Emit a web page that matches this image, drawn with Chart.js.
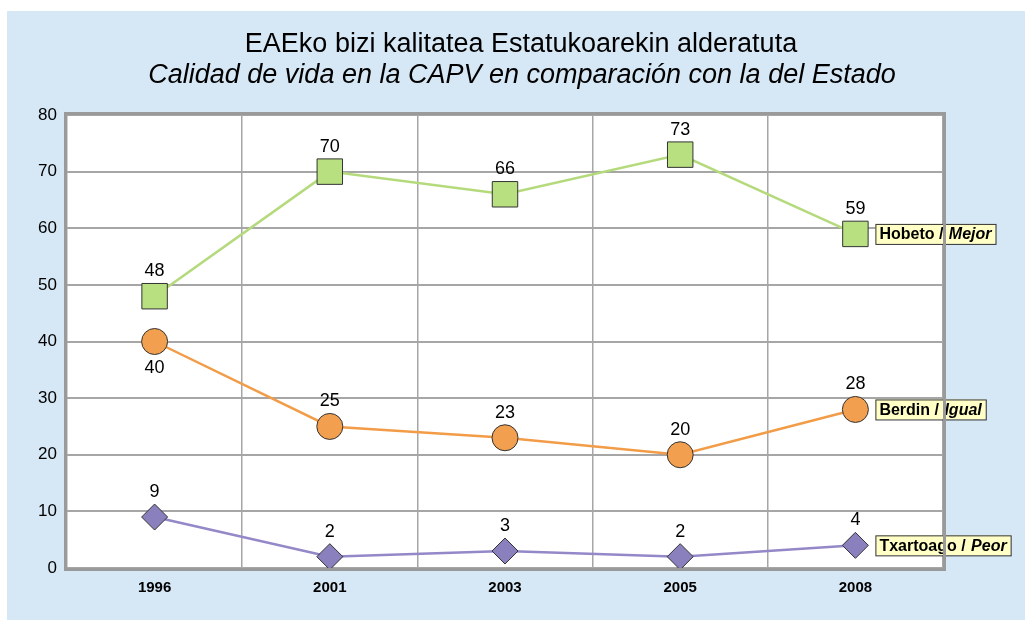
<!DOCTYPE html>
<html>
<head>
<meta charset="utf-8">
<script src="https://cdn.jsdelivr.net/npm/chart.js@4/dist/chart.umd.min.js"></script>
<style>
  html, body { margin: 0; padding: 0; background: #ffffff; }
  canvas { display: block; }
</style>
</head>
<body>
<canvas id="qualityChart" width="1025" height="620"></canvas>
<script>
// Datos
const years = ["1996", "2001", "2003", "2005", "2008"];
const hobeto = [48, 70, 66, 73, 59];
const berdin = [40, 25, 23, 20, 28];
const txartoago = [9, 2, 3, 2, 4];
const yTicks = [0, 10, 20, 30, 40, 50, 60, 70, 80];

const titleEu = "EAEko bizi kalitatea Estatukoarekin alderatuta";
const titleEs = "Calidad de vida en la CAPV en comparación con la del Estado";

const FONT = "'Liberation Sans', Arial, sans-serif";

// fondo azul + area blanca + borde
const backgroundPlugin = {
  id: "background",
  beforeDraw(chart) {
    const ctx = chart.ctx;
    const a = chart.chartArea;
    ctx.save();
    ctx.fillStyle = "#ffffff";
    ctx.fillRect(0, 0, chart.width, chart.height);
    ctx.fillStyle = "#d6e7f5";
    ctx.fillRect(7, 11, chart.width - 7, chart.height - 11);
    ctx.fillStyle = "#ffffff";
    ctx.fillRect(a.left, a.top, a.right - a.left, a.bottom - a.top);
    ctx.restore();
  },
  afterDraw(chart) {
    const ctx = chart.ctx;
    const a = chart.chartArea;
    ctx.save();
    ctx.strokeStyle = "#9a9a9a";
    ctx.lineWidth = 3;
    ctx.strokeRect(a.left - 1.5, a.top - 1.5, a.right - a.left + 3, a.bottom - a.top + 3);
    // titulo
    ctx.fillStyle = "#000000";
    ctx.textAlign = "center";
    ctx.textBaseline = "middle";
    ctx.font = "27px " + FONT;
    ctx.fillText(titleEu, 521, 45);
    ctx.font = "italic 27px " + FONT;
    ctx.fillText(titleEs, 522, 75);
    ctx.restore();
  }
};

// etiquetas de valores y cajas de serie
const labelPlugin = {
  id: "valueLabels",
  afterDatasetsDraw(chart) {
    const ctx = chart.ctx;
    ctx.save();
    chart.data.datasets.forEach((ds, i) => {
      const meta = chart.getDatasetMeta(i);
      ctx.font = "18px " + FONT;
      ctx.fillStyle = "#000000";
      ctx.textAlign = "center";
      ctx.textBaseline = "middle";
      meta.data.forEach((pt, j) => {
        const below = ds.labelPos && ds.labelPos[j] === "below";
        ctx.fillText(String(ds.data[j]), pt.x, pt.y + (below ? 27 : -25));
      });

      // caja de leyenda junto al ultimo punto
      const last = meta.data[meta.data.length - 1];
      const boxX = last.x + 20;
      const boxY = last.y;
      const first = ds.nameEu + " /";
      ctx.textAlign = "left";
      ctx.font = "bold 16px " + FONT;
      const w1 = ctx.measureText(first).width;
      const gap = ctx.measureText("a a").width - ctx.measureText("aa").width + 1;
      ctx.font = "italic bold 16px " + FONT;
      const w2 = ctx.measureText(ds.nameEs).width;
      const w = w1 + gap + w2 + 8;
      const h = 20;
      ctx.fillStyle = "#ffffc6";
      ctx.fillRect(boxX, boxY - h / 2, w, h);
      ctx.strokeStyle = "#333333";
      ctx.lineWidth = 1;
      ctx.strokeRect(boxX + 0.5, boxY - h / 2 + 0.5, w, h);
      ctx.fillStyle = "#000000";
      ctx.font = "bold 16px " + FONT;
      ctx.fillText(first, boxX + 4, boxY + 1);
      ctx.font = "italic bold 16px " + FONT;
      ctx.fillText(ds.nameEs, boxX + 4 + w1 + gap, boxY + 1);
    });
    ctx.restore();
  }
};

const ctx = document.getElementById("qualityChart").getContext("2d");
new Chart(ctx, {
  type: "line",
  data: {
    labels: years,
    datasets: [
      {
        label: "Hobeto / Mejor",
        nameEu: "Hobeto",
        nameEs: "Mejor",
        data: hobeto,
        borderColor: "#b5da7c",
        backgroundColor: "#b8df80",
        borderWidth: 2.5,
        pointStyle: "rect",
        pointRadius: 18,
        pointBorderColor: "#333333",
        pointBorderWidth: 1,
        pointBackgroundColor: "#b8df80",
        tension: 0
      },
      {
        label: "Berdin / Igual",
        nameEu: "Berdin",
        nameEs: "Igual",
        labelPos: ["below", "above", "above", "above", "above"],
        data: berdin,
        borderColor: "#f29c48",
        backgroundColor: "#f2a050",
        borderWidth: 2.5,
        pointStyle: "circle",
        pointRadius: 13,
        pointBorderColor: "#333333",
        pointBorderWidth: 1,
        pointBackgroundColor: "#f2a050",
        tension: 0
      },
      {
        label: "Txartoago / Peor",
        nameEu: "Txartoago",
        nameEs: "Peor",
        data: txartoago,
        borderColor: "#9488c8",
        backgroundColor: "#8a80be",
        borderWidth: 2.5,
        pointStyle: "rectRot",
        pointRadius: 13,
        pointBorderColor: "#333333",
        pointBorderWidth: 1,
        pointBackgroundColor: "#8a80be",
        tension: 0
      }
    ]
  },
  options: {
    responsive: false,
    animation: false,
    layout: { padding: { left: 0, top: 115, right: 82, bottom: 0 } },
    plugins: {
      legend: { display: false },
      tooltip: { enabled: false },
      title: { display: false }
    },
    scales: {
      x: {
        offset: true,
        grid: { offset: true, color: "#a6a6a6", lineWidth: 1.5, drawTicks: false },
        border: { display: false },
        ticks: {
          color: "#000000",
          font: { family: FONT, size: 15, weight: "bold" },
          padding: 11
        },
        afterFit(scale) { scale.height = 52; }
      },
      y: {
        min: 0,
        max: 80,
        afterBuildTicks(scale) { scale.ticks = yTicks.map(v => ({ value: v })); },
        grid: { color: "#a6a6a6", lineWidth: 2, drawTicks: false },
        border: { display: false },
        ticks: {
          color: "#000000",
          font: { family: FONT, size: 17 },
          padding: 10
        },
        afterFit(scale) { scale.width = 67; }
      }
    }
  },
  plugins: [backgroundPlugin, labelPlugin]
});
</script>
</body>
</html>
